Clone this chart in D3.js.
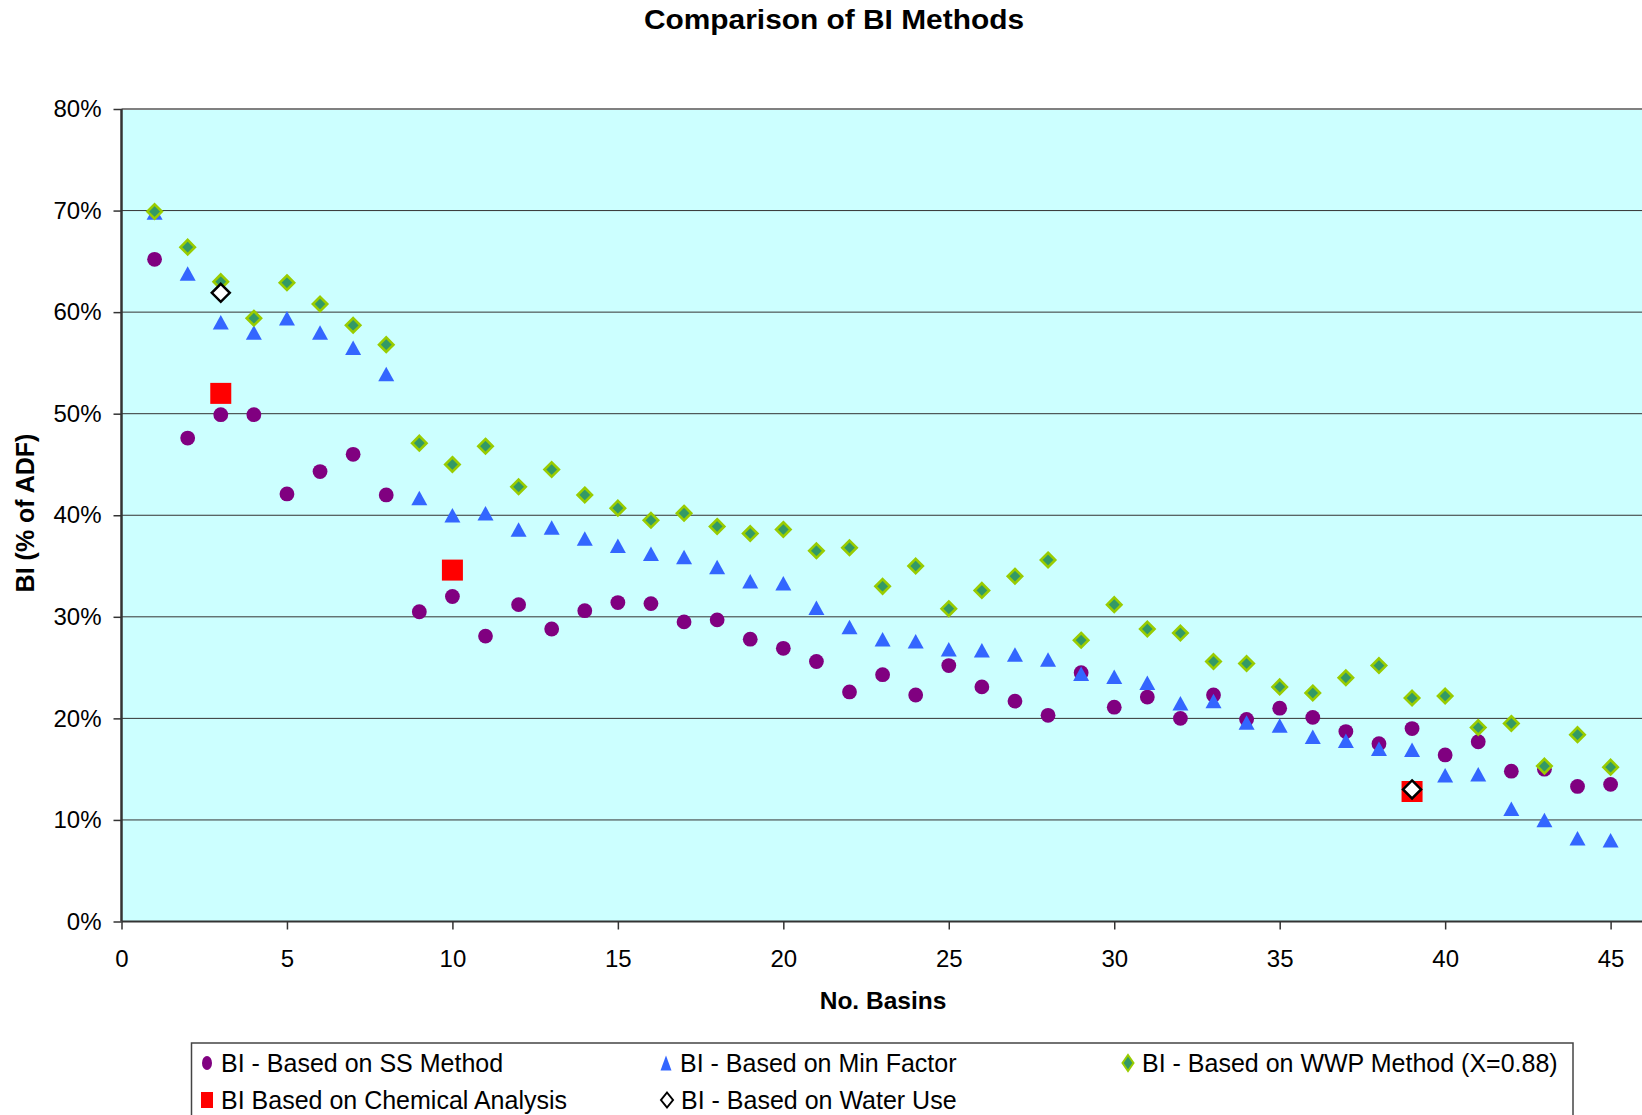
<!DOCTYPE html>
<html lang='en'>
<head>
    <meta charset='UTF-8'>
    <title>Comparison of BI Methods</title>
    <style>
        body { margin: 0; background: #fff; }
        svg text { font-family: 'Liberation Sans', Arial, sans-serif; fill: #000; }
    </style>
</head>
<body>
<div id="chart-area"></div>
</body>
<script src='https://d3js.org/d3.v7.min.js'></script>
<script>

    // basin numbers (x categories)
    const basins = [1, 2, 3, 4, 5, 6, 7, 8, 9, 10, 11, 12, 13, 14, 15, 16, 17, 18, 19, 20,
        21, 22, 23, 24, 25, 26, 27, 28, 29, 30, 31, 32, 33, 34, 35, 36, 37, 38, 39, 40,
        41, 42, 43, 44, 45];

    // BI values in % of ADF
    const ssMethod = [65.2, 47.6, 49.9, 49.9, 42.1, 44.3, 46.0, 42.0, 30.5, 32.0,
        28.1, 31.2, 28.8, 30.6, 31.4, 31.3, 29.5, 29.7, 27.8, 26.9,
        25.6, 22.6, 24.3, 22.3, 25.2, 23.1, 21.7, 20.3, 24.5, 21.1,
        22.1, 20.0, 22.3, 19.9, 21.0, 20.1, 18.7, 17.5, 19.0, 16.4,
        17.7, 14.8, 15.0, 13.3, 13.5];
    const minFactor = [69.8, 63.8, 59.0, 58.0, 59.4, 58.0, 56.5, 53.9, 41.7, 40.0,
        40.2, 38.6, 38.8, 37.7, 37.0, 36.2, 35.9, 34.9, 33.5, 33.3,
        30.9, 29.0, 27.8, 27.6, 26.8, 26.7, 26.3, 25.8, 24.4, 24.1,
        23.5, 21.5, 21.7, 19.6, 19.3, 18.2, 17.8, 17.0, 16.9, 14.4,
        14.5, 11.1, 10.0, 8.2, 8.0];
    const wwpMethod = [69.9, 66.4, 63.0, 59.4, 62.9, 60.8, 58.7, 56.8, 47.1, 45.0,
        46.8, 42.8, 44.5, 42.0, 40.7, 39.5, 40.2, 38.9, 38.2, 38.6,
        36.5, 36.8, 33.0, 35.0, 30.8, 32.6, 34.0, 35.6, 27.7, 31.2,
        28.8, 28.4, 25.6, 25.4, 23.1, 22.5, 24.0, 25.2, 22.0, 22.2,
        19.1, 19.5, 15.3, 18.4, 15.2];
    const chemBasins = [3, 10, 39];
    const chemValues = [52.0, 34.6, 12.8];
    const waterBasins = [3, 39];
    const waterValues = [61.9, 13.0];

    const xTicks = [0, 5, 10, 15, 20, 25, 30, 35, 40, 45];
    const yTicks = [0, 10, 20, 30, 40, 50, 60, 70, 80];

    const outerWidth = 1642;
    const outerHeight = 1115;
    const plot = {left: 121.5, top: 109, bottom: 921.5, right: 1642};

    const svg = d3.select('#chart-area').append('svg')
        .attr('width', outerWidth)
        .attr('height', outerHeight);

    const xScale = d3.scaleLinear().domain([0, 45]).range([plot.left, 1610.6]);
    const yScale = d3.scaleLinear().domain([0, 80]).range([plot.bottom, plot.top]);

    // plot area
    svg.append('rect')
        .attr('x', plot.left)
        .attr('y', plot.top)
        .attr('width', plot.right - plot.left)
        .attr('height', plot.bottom - plot.top)
        .attr('fill', '#ccffff');

    // gridlines
    svg.append('g')
        .selectAll('line')
        .data(yTicks.filter(d => d > 0))
        .enter().append('line')
        .attr('x1', plot.left)
        .attr('x2', plot.right)
        .attr('y1', d => yScale(d))
        .attr('y2', d => yScale(d))
        .attr('stroke', d => d === 80 ? '#808080' : '#333')
        .attr('stroke-width', d => d === 80 ? 2 : 1);

    // axes
    const xAxis = d3.axisBottom(xScale).tickValues(xTicks).tickSize(8).tickPadding(20);
    const yAxis = d3.axisLeft(yScale).tickValues(yTicks).tickSize(8).tickPadding(12)
        .tickFormat(d => d + '%');

    const gx = svg.append('g')
        .attr('transform', `translate(0, ${plot.bottom})`)
        .call(xAxis);
    gx.select('.domain').remove();
    gx.append('line')
        .attr('x1', plot.left).attr('x2', plot.right)
        .attr('stroke', '#333').attr('stroke-width', 2);

    const gy = svg.append('g')
        .attr('transform', `translate(${plot.left}, 0)`)
        .call(yAxis);
    gy.select('.domain').remove();
    gy.append('line')
        .attr('y1', plot.top).attr('y2', plot.bottom)
        .attr('stroke', '#333').attr('stroke-width', 2.5);

    svg.selectAll('.tick line').attr('stroke', '#333').attr('stroke-width', 1.5);
    svg.selectAll('.tick text')
        .attr('font-size', 24)
        .attr('font-family', "'Liberation Sans', Arial, sans-serif")
        .attr('fill', '#000');

    // titles
    svg.append('text')
        .attr('x', 834)
        .attr('y', 29)
        .attr('text-anchor', 'middle')
        .attr('font-size', 27)
        .attr('font-weight', 'bold')
        .attr('textLength', 380)
        .attr('lengthAdjust', 'spacingAndGlyphs')
        .text('Comparison of BI Methods');

    svg.append('text')
        .attr('x', 883)
        .attr('y', 1009)
        .attr('text-anchor', 'middle')
        .attr('font-size', 24.5)
        .attr('font-weight', 'bold')
        .text('No. Basins');

    svg.append('text')
        .attr('transform', 'translate(34, 513) rotate(-90)')
        .attr('text-anchor', 'middle')
        .attr('font-size', 25)
        .attr('font-weight', 'bold')
        .text('BI (% of ADF)');

    // marker shapes
    const triangle = (w, h) => `M0,${-h / 2}L${w / 2},${h / 2}L${-w / 2},${h / 2}Z`;
    const diamond = r => `M0,${-r}L${r},0L0,${r}L${-r},0Z`;

    const pts = (xs, ys) => xs.map((x, i) => [x, ys[i]]);

    svg.append('g')
        .selectAll('circle')
        .data(pts(basins, ssMethod))
        .enter().append('circle')
        .attr('cx', ([x]) => xScale(x))
        .attr('cy', ([, y]) => yScale(y))
        .attr('r', 7.4)
        .attr('fill', '#800080');

    svg.append('g')
        .selectAll('path')
        .data(pts(basins, minFactor))
        .enter().append('path')
        .attr('d', triangle(16, 14.5))
        .attr('transform', ([x, y]) => `translate(${xScale(x)}, ${yScale(y)})`)
        .attr('fill', '#3366ff');

    svg.append('g')
        .selectAll('path')
        .data(pts(basins, wwpMethod))
        .enter().append('path')
        .attr('d', diamond(7.2))
        .attr('transform', ([x, y]) => `translate(${xScale(x)}, ${yScale(y)})`)
        .attr('fill', '#339966')
        .attr('stroke', '#99cc00')
        .attr('stroke-width', 2.6);

    svg.append('g')
        .selectAll('rect')
        .data(pts(chemBasins, chemValues))
        .enter().append('rect')
        .attr('x', ([x]) => xScale(x) - 10.5)
        .attr('y', ([, y]) => yScale(y) - 10.5)
        .attr('width', 21)
        .attr('height', 21)
        .attr('fill', '#ff0000');

    svg.append('g')
        .selectAll('path')
        .data(pts(waterBasins, waterValues))
        .enter().append('path')
        .attr('d', diamond(9))
        .attr('transform', ([x, y]) => `translate(${xScale(x)}, ${yScale(y)})`)
        .attr('fill', '#fff')
        .attr('stroke', '#000')
        .attr('stroke-width', 2.5);

    // legend
    const legend = svg.append('g');
    legend.append('rect')
        .attr('x', 191.5)
        .attr('y', 1043)
        .attr('width', 1381.5)
        .attr('height', 100)
        .attr('fill', '#fff')
        .attr('stroke', '#444')
        .attr('stroke-width', 1.5);

    const legendItems = [
        {label: 'BI - Based on SS Method', x: 207, y: 1063, kind: 'circle'},
        {label: 'BI - Based on Min Factor', x: 666, y: 1063, kind: 'triangle'},
        {label: 'BI  - Based on WWP Method (X=0.88)', x: 1128, y: 1063, kind: 'wwp'},
        {label: 'BI Based on Chemical Analysis', x: 207, y: 1100, kind: 'square'},
        {label: 'BI - Based on Water Use', x: 667, y: 1100, kind: 'water'}
    ];

    const li = legend.selectAll('g.item')
        .data(legendItems)
        .enter().append('g')
        .attr('class', 'item')
        .attr('transform', d => `translate(${d.x}, ${d.y})`);

    li.each(function (d) {
        const g = d3.select(this);
        if (d.kind === 'circle') {
            g.append('ellipse').attr('rx', 5).attr('ry', 7).attr('fill', '#800080');
        } else if (d.kind === 'triangle') {
            g.append('path').attr('d', triangle(11, 15)).attr('fill', '#3366ff');
        } else if (d.kind === 'wwp') {
            g.append('path').attr('d', 'M0,-8L5.5,0L0,8L-5.5,0Z')
                .attr('fill', '#339966').attr('stroke', '#99cc00').attr('stroke-width', 2);
        } else if (d.kind === 'square') {
            g.append('rect').attr('x', -6).attr('y', -8).attr('width', 12).attr('height', 16)
                .attr('fill', '#ff0000');
        } else {
            g.append('path').attr('d', 'M0,-7.5L6,0L0,7.5L-6,0Z')
                .attr('fill', '#fff').attr('stroke', '#000').attr('stroke-width', 2);
        }
        g.append('text')
            .attr('x', 14)
            .attr('dy', '0.36em')
            .attr('font-size', 25)
            .text(d.label);
    });
</script>
</html>
